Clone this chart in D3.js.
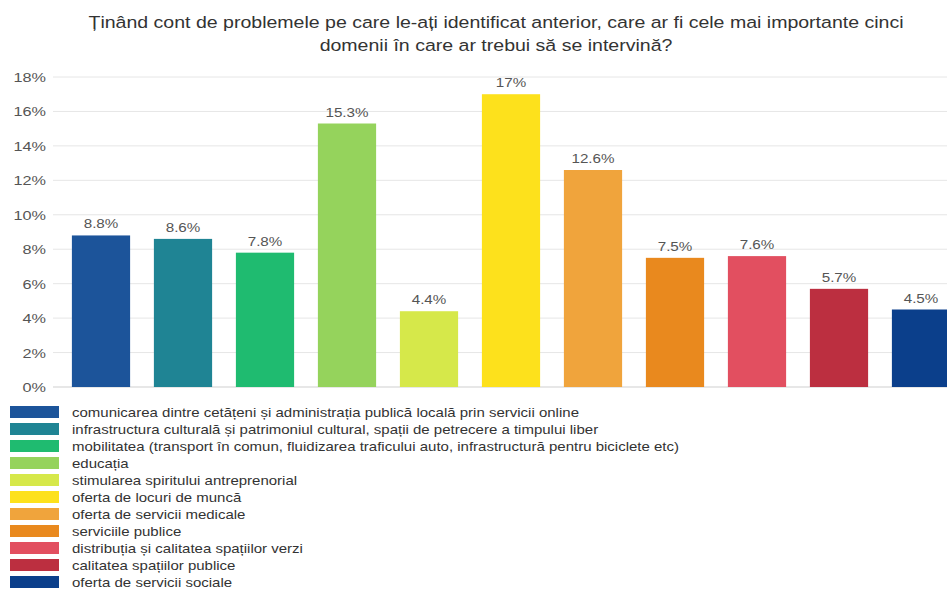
<!DOCTYPE html>
<html>
<head>
<meta charset="utf-8">
<script src="https://cdn.jsdelivr.net/npm/d3@7"></script>
<style>
  html, body { margin: 0; padding: 0; background: #fff; }
  svg { display: block; }
  text { font-family: "Liberation Sans", Arial, sans-serif; }
</style>
</head>
<body>
<svg id="chart" width="947" height="590"></svg>
<script>
const titleLines = [
  "Ținând cont de problemele pe care le-ați identificat anterior, care ar fi cele mai importante cinci",
  "domenii în care ar trebui să se intervină?"
];
const categories = [
  "comunicarea dintre cetățeni și administrația publică locală prin servicii online",
  "infrastructura culturală și patrimoniul cultural, spații de petrecere a timpului liber",
  "mobilitatea (transport în comun, fluidizarea traficului auto, infrastructură pentru biciclete etc)",
  "educația",
  "stimularea spiritului antreprenorial",
  "oferta de locuri de muncă",
  "oferta de servicii medicale",
  "serviciile publice",
  "distribuția și calitatea spațiilor verzi",
  "calitatea spațiilor publice",
  "oferta de servicii sociale"
];
const values = [8.8, 8.6, 7.8, 15.3, 4.4, 17, 12.6, 7.5, 7.6, 5.7, 4.5];
const valueLabels = ["8.8%", "8.6%", "7.8%", "15.3%", "4.4%", "17%", "12.6%", "7.5%", "7.6%", "5.7%", "4.5%"];
const colors = ["#1c549a", "#1f8494", "#1fbb70", "#95d35c", "#d6e84a", "#fde11c", "#f0a43c", "#e9891e", "#e24f60", "#bc2f40", "#0b3f8b"];
const yTicks = [0, 2, 4, 6, 8, 10, 12, 14, 16, 18];

const svg = d3.select("#chart");

const x = d3.scaleBand().domain(d3.range(categories.length))
  .range([60, 962]).paddingInner(0.29).paddingOuter(0.145);
const y = d3.scaleLinear().domain([0, 18]).range([387, 77]);

// Title (slightly stretched horizontally like the reference)
svg.append("g").selectAll("text").data(titleLines).join("text")
  .attr("transform", (d, i) => `translate(496,${28 + i * 23}) scale(1.15,1)`)
  .attr("text-anchor", "middle")
  .attr("font-size", 17).attr("fill", "#333")
  .text(d => d);

// Gridlines
svg.append("g").selectAll("line").data(yTicks.filter(t => t > 0)).join("line")
  .attr("x1", 53).attr("x2", 947)
  .attr("y1", d => y(d)).attr("y2", d => y(d))
  .attr("stroke", "#e6e6e6").attr("stroke-width", 1);

// Y axis
const yAxis = d3.axisLeft(y).tickValues(yTicks).tickFormat(d => d + "%").tickSize(0).tickPadding(0);
const yg = svg.append("g").attr("transform", "translate(46,0)").call(yAxis);
yg.select(".domain").remove();
yg.selectAll(".tick text")
  .attr("x", null).attr("dy", null)
  .attr("transform", "translate(0,4.5) scale(1.25,1)")
  .attr("font-size", 13).attr("fill", "#555")
  .attr("font-family", "'Liberation Sans', Arial, sans-serif");

// Baseline
svg.append("line").attr("x1", 53).attr("x2", 947).attr("y1", y(0)).attr("y2", y(0))
  .attr("stroke", "#cfcfcf").attr("stroke-width", 1);

// Bars
svg.append("g").selectAll("rect").data(values).join("rect")
  .attr("x", (d, i) => x(i)).attr("width", x.bandwidth())
  .attr("y", d => y(d)).attr("height", d => y(0) - y(d))
  .attr("fill", (d, i) => colors[i]);

// Value labels
svg.append("g").selectAll("text").data(values).join("text")
  .attr("transform", (d, i) => `translate(${x(i) + x.bandwidth() / 2},${y(d) - 7}) scale(1.17,1)`)
  .attr("text-anchor", "middle")
  .attr("font-size", 13).attr("fill", "#555")
  .text((d, i) => valueLabels[i]);

// Legend
const lg = svg.append("g");
const rowH = 17;
const leg = lg.selectAll("g").data(categories).join("g")
  .attr("transform", (d, i) => `translate(10,${406 + i * rowH})`);
leg.append("rect").attr("width", 49).attr("height", 12).attr("fill", (d, i) => colors[i]);
leg.append("text")
  .attr("transform", "translate(62,10.5) scale(1.155,1)")
  .attr("font-size", 13).attr("fill", "#333")
  .text(d => d);
</script>
</body>
</html>
